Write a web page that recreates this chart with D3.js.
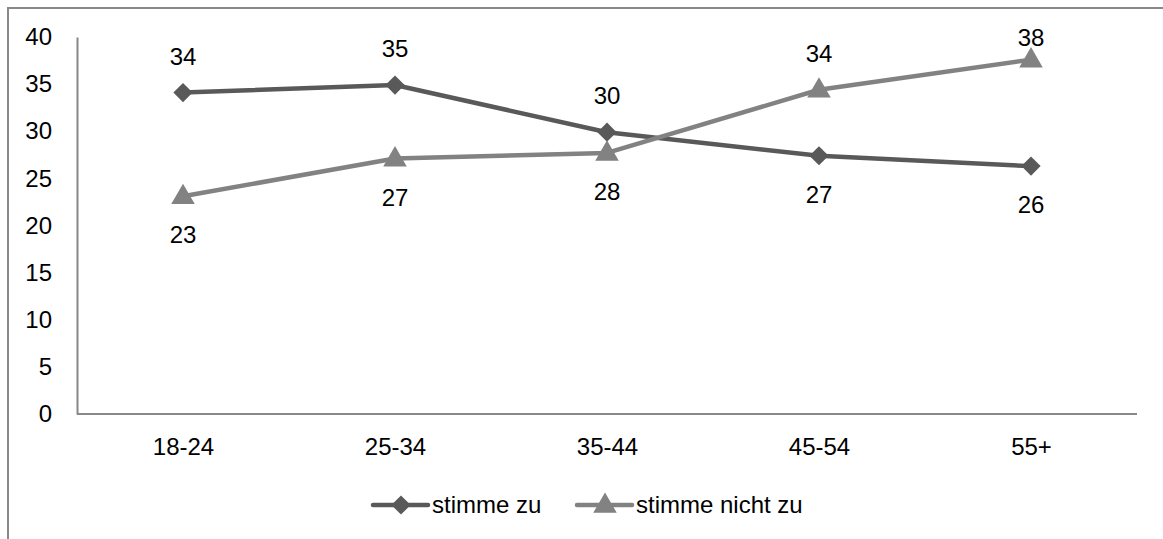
<!DOCTYPE html>
<html><head><meta charset="utf-8">
<script src="https://cdn.jsdelivr.net/npm/d3@7"></script>
<style>body{margin:0;background:#fff}svg{display:block}text{font-family:"Liberation Sans",Arial,sans-serif;fill:#000}</style>
</head><body><svg id="c" width="1163" height="539"></svg>
<script>
const categories = ["18-24","25-34","35-44","45-54","55+"];
const zu = [34.1, 34.9, 29.9, 27.4, 26.3];
const nichtZu = [23.1, 27.1, 27.7, 34.4, 37.6];
const yTicks = [0,5,10,15,20,25,30,35,40];
const seriesNames = ["stimme zu","stimme nicht zu"];

const FS = "24px";
const svg = d3.select("#c");
svg.append("rect").attr("x",8).attr("y",8).attr("width",1200).attr("height",600)
  .attr("fill","none").attr("stroke","#888").attr("stroke-width",2);

const x0 = 77, x1 = 1137, yTop = 37, yBot = 414;
const x = d3.scalePoint().domain(categories).range([x0, x1]).padding(0.5);
const y = d3.scaleLinear().domain([0,40]).range([yBot, yTop]);

const ya = svg.append("g").attr("transform",`translate(${x0},0)`)
  .call(d3.axisLeft(y).tickValues(yTicks).tickSize(0).tickPadding(25));
ya.select(".domain").attr("stroke","#888").attr("stroke-width",2);
ya.selectAll("text").style("font-size",FS).style("font-family","Liberation Sans, Arial, sans-serif").attr("fill","#000");

const xa = svg.append("g").attr("transform",`translate(0,${yBot})`)
  .call(d3.axisBottom(x).tickSize(0).tickPadding(24));
xa.select(".domain").attr("stroke","#888").attr("stroke-width",2).attr("d",`M${x0},0H${x1}`);
xa.selectAll("text").style("font-size",FS).style("font-family","Liberation Sans, Arial, sans-serif").attr("fill","#000");

const series = [
  {name: seriesNames[0], values: zu, color: "#595959", sym: "diamond", other: nichtZu},
  {name: seriesNames[1], values: nichtZu, color: "#828282", sym: "triangle", other: zu}
];
function marker(sel, s, cx, cy){
  if (s.sym === "diamond") {
    sel.append("path").attr("transform",`translate(${cx},${cy}) rotate(45)`)
      .attr("d",d3.symbol().type(d3.symbolSquare).size(185)).attr("fill",s.color);
  } else {
    sel.append("path").attr("transform",`translate(${cx},${cy+1})`)
      .attr("d",d3.symbol().type(d3.symbolTriangle).size(240)).attr("fill",s.color);
  }
}
const line = d3.line().x((d,i)=>x(categories[i])).y(d=>y(d));
series.forEach(s=>{
  svg.append("path").datum(s.values).attr("d",line).attr("fill","none")
    .attr("stroke",s.color).attr("stroke-width",4.5).attr("stroke-linejoin","round");
});
series.forEach(s=>{
  s.values.forEach((d,i)=> marker(svg, s, x(categories[i]), y(d)));
  svg.selectAll(null).data(s.values).join("text")
    .attr("x",(d,i)=>x(categories[i]))
    .attr("y",(d,i)=> d > s.other[i] ? Math.max(y(d)-28, 46) : y(d)+47)
    .attr("text-anchor","middle").style("font-size",FS)
    .text(d=>Math.round(d));
});

const legY = 505;
const leg = [{x:373, s:series[0]},{x:577, s:series[1]}];
leg.forEach(l=>{
  svg.append("line").attr("x1",l.x).attr("x2",l.x+55).attr("y1",legY).attr("y2",legY)
    .attr("stroke",l.s.color).attr("stroke-width",4.5).attr("stroke-linecap","round");
  marker(svg, l.s, l.x+28, legY);
  svg.append("text").attr("x",l.x+59).attr("y",legY+8).style("font-size",FS).text(l.s.name);
});
</script></body></html>
